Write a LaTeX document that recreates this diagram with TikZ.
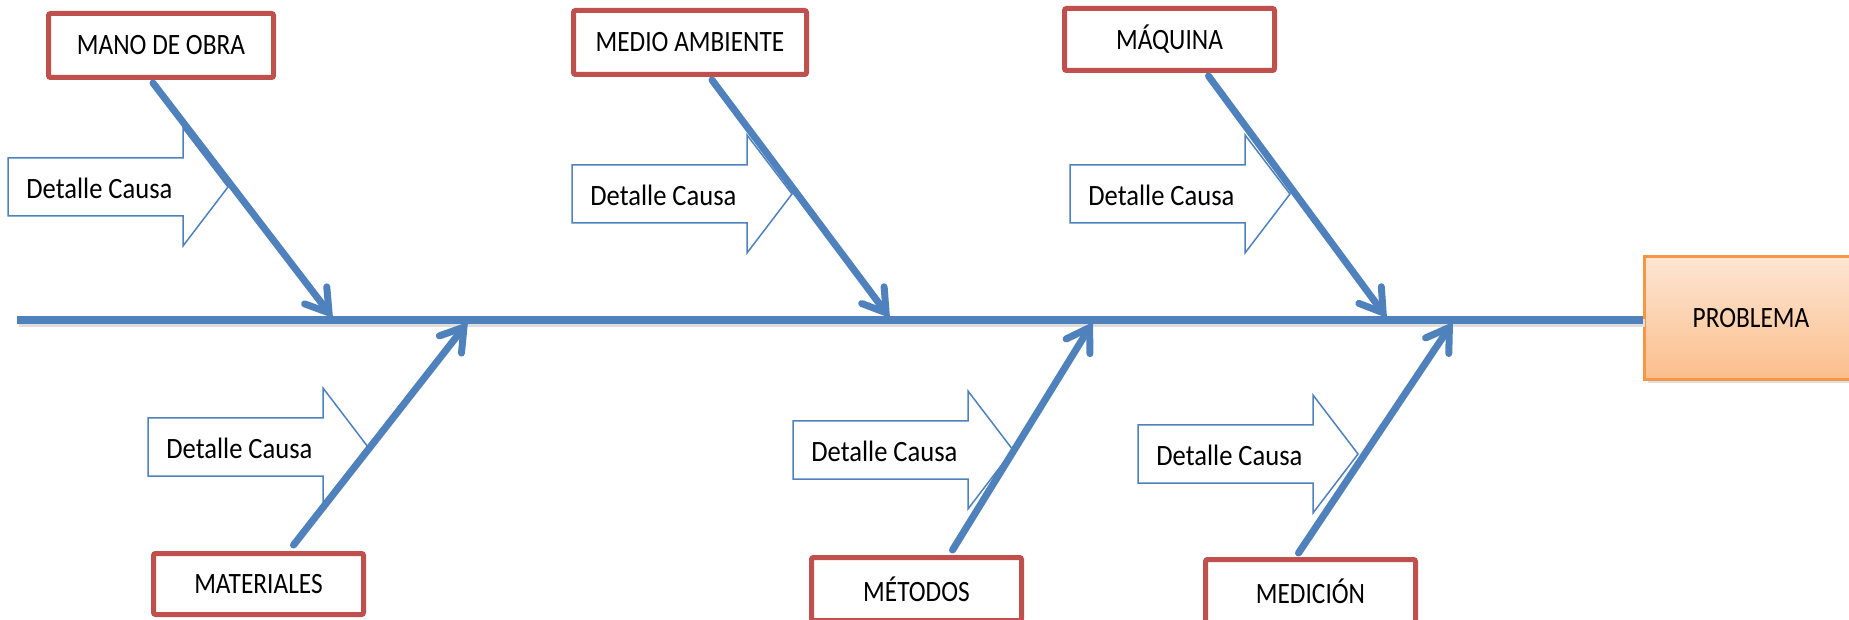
\documentclass[tikz,border=0pt]{standalone}
\usepackage{fontspec}
\setmainfont{Carlito}[FakeStretch=0.86]
\newfontfamily\detailfont{Carlito}[FakeStretch=0.9]
\usetikzlibrary{arrows.meta,shadows}
\definecolor{boneblue}{HTML}{4F81BD}
\definecolor{redb}{HTML}{C0504D}
\definecolor{orb}{HTML}{F79646}
\definecolor{ortop}{HTML}{FDE6D3}
\definecolor{orbot}{HTML}{FBBE8C}
\newcommand\detailarrow[3]{%
  \draw[detail] (#2,#3) -- ++(175,0) -- ++(0,-30) -- ++(45,59) -- ++(-45,59) -- ++(0,-30) -- ++(-175,0) -- cycle;
  \node[dtext, anchor=west] (#1) at (#2+18,#3+30) {Detalle Causa};
}
\tikzset{
  cause/.style={draw=redb, line width=2.5pt, rounded corners=1pt, fill=white, inner sep=0pt,
    font=\fontsize{14.75}{16}\selectfont},
  detail/.style={draw=boneblue, line width=0.75pt, fill=white},
  dtext/.style={inner sep=0pt, font=\detailfont\fontsize{14.75}{16}\selectfont},
  spine/.style={draw=boneblue, line width=4pt,
    preaction={draw=black!13, line width=4pt, transform canvas={xshift=0.8pt,yshift=-1.5pt}}},
  bone/.style={draw=boneblue, line width=3.5pt, line cap=round,
    -{Straight Barb[length=11pt, width=14pt, line cap=round]},
    preaction={draw=black!13, transform canvas={xshift=1pt,yshift=-1.5pt}}},
  problembox/.style={draw=orb, line width=1.5pt, top color=ortop, bottom color=orbot, inner sep=0pt,
    font=\fontsize{14.75}{16}\selectfont,
    drop shadow={opacity=0.25, shadow xshift=1.5pt, shadow yshift=-2pt}}
}
\begin{document}
\begin{tikzpicture}[x=0.5pt, y=-0.5pt]
\useasboundingbox (0,0) rectangle (1849,620);
% problem box
\node[problembox, minimum width=106.5pt, minimum height=61.5pt] (problem) at (1751,318) {PROBLEMA};
% spine
\coordinate (tail) at (17,320);
\draw[spine] (tail) -- (tail -| problem.west);
% spine points
\coordinate (t1) at (333,318);
\coordinate (t2) at (890,318);
\coordinate (t3) at (1387,318);
\coordinate (b1) at (468,322);
\coordinate (b2) at (1093,322);
\coordinate (b3) at (1453,322);
% detail arrows
\detailarrow{d1}{8}{158}
\detailarrow{d2}{572}{165}
\detailarrow{d3}{1070}{165}
\detailarrow{d4}{148}{418}
\detailarrow{d5}{793}{421}
\detailarrow{d6}{1138}{425}
% cause boxes
\node[cause, minimum width=112.5pt, minimum height=32pt] (mano) at (161,45.5) {MANO DE OBRA};
\node[cause, minimum width=116.5pt, minimum height=32pt] (medio) at (690,42.5) {MEDIO AMBIENTE};
\node[cause, minimum width=105pt, minimum height=31pt] (maquina) at (1169.5,39.5) {MÁQUINA};
\node[cause, minimum width=105pt, minimum height=30.5pt] (materiales) at (258.5,584) {MATERIALES};
\node[cause, minimum width=105pt, minimum height=31.5pt] (metodos) at (916.5,589) {MÉTODOS};
\node[cause, minimum width=105pt, minimum height=31.5pt] (medicion) at (1310.5,591) {MEDICIÓN};
% bones
\draw[bone] ([xshift=-4pt,yshift=-1.5pt]mano.south) -- (t1);
\draw[bone] ([xshift=11pt,yshift=-1.5pt]medio.south) -- (t2);
\draw[bone] ([xshift=19.5pt,yshift=-1.5pt]maquina.south) -- (t3);
\draw[bone] ([xshift=17.5pt,yshift=3pt]materiales.north) -- (b1);
\draw[bone] ([xshift=18pt,yshift=2.5pt]metodos.north) -- (b2);
\draw[bone] ([xshift=-6pt,yshift=2pt]medicion.north) -- (b3);
\end{tikzpicture}
\end{document}
